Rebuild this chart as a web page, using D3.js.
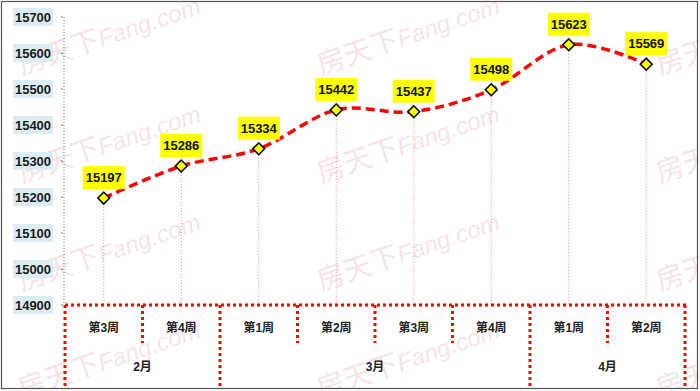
<!DOCTYPE html>
<html>
<head>
<meta charset="utf-8">
<script src="https://cdn.jsdelivr.net/npm/d3@7"></script>
<style>
  body { margin: 0; background: #fff; }
  svg text { font-family: "Liberation Sans", Arial, "Noto Sans CJK SC", sans-serif; }
</style>
</head>
<body>
<div id="chart"></div>
<script>
// weekly values
const weeks = ["第3周", "第4周", "第1周", "第2周", "第3周", "第4周", "第1周", "第2周"];
const values = [15197, 15286, 15334, 15442, 15437, 15498, 15623, 15569];
// month groups: label + number of weeks
const months = ["2月", "3月", "4月"];
const monthWeeks = [2, 4, 2];
const yTicks = [14900, 15000, 15100, 15200, 15300, 15400, 15500, 15600, 15700];

const width = 700, height = 391;
const plotLeft = 65, plotRight = 685, plotTop = 17, plotBottom = 305;

const svg = d3.select("#chart").append("svg")
  .attr("width", width)
  .attr("height", height);

// watermark (clipped to the frame like the original)
svg.append("clipPath").attr("id", "frame")
  .append("rect").attr("x", 2).attr("y", 2).attr("width", 695).attr("height", 386);
const wm = svg.append("g").attr("clip-path", "url(#frame)");
const wmX = [22, 321, 660];
const wmY = [75, 183, 291, 399];
wmX.forEach((wx) => {
  wmY.forEach((wy) => {
    const t = wm.append("text")
      .attr("transform", `translate(${wx},${wy}) rotate(-19)`)
      .attr("fill", "#e9a9b0")
      .attr("opacity", 0.32);
    t.append("tspan").attr("font-size", 28).text("房天下");
    t.append("tspan").attr("font-size", 24).attr("font-style", "italic").text("Fang.com");
  });
});

// outer border
svg.append("rect")
  .attr("x", 1.5).attr("y", 1.5)
  .attr("width", 696).attr("height", 387)
  .attr("fill", "none")
  .attr("stroke", "#555")
  .attr("stroke-width", 1.2);

const idx = weeks.map((d, i) => i);
const x = d3.scaleBand().domain(idx).range([plotLeft, plotRight]);
const y = d3.scaleLinear().domain([14900, 15700]).range([plotBottom, plotTop]);
const cx = (i) => x(i) + x.bandwidth() / 2;

// y axis
svg.append("line")
  .attr("x1", plotLeft - 1).attr("x2", plotLeft - 1)
  .attr("y1", y(15700)).attr("y2", plotBottom)
  .attr("stroke", "#777")
  .attr("stroke-dasharray", "1,2");

const yl = svg.append("g").selectAll("g")
  .data(yTicks)
  .enter()
  .append("g")
  .attr("transform", (d) => `translate(0,${y(d)})`);
yl.append("rect")
  .attr("x", 13).attr("y", -9)
  .attr("width", 40).attr("height", 18)
  .attr("fill", "#dbecf3");
yl.append("text")
  .attr("x", 33).attr("dy", "0.36em")
  .attr("text-anchor", "middle")
  .attr("font-size", 13)
  .attr("font-weight", "bold")
  .attr("fill", "#1a1a1a")
  .text((d) => d);
yl.append("line")
  .attr("x1", 61).attr("x2", 63)
  .attr("stroke", "#777");

// drop lines
svg.append("g").selectAll("line")
  .data(values)
  .enter()
  .append("line")
  .attr("x1", (d, i) => cx(i)).attr("x2", (d, i) => cx(i))
  .attr("y1", (d) => y(d)).attr("y2", plotBottom)
  .attr("stroke", "#f08a8a")
  .attr("stroke-width", 1)
  .attr("stroke-dasharray", "1,2");

// smoothed dashed line
const line = d3.line()
  .x((d, i) => cx(i))
  .y((d) => y(d))
  .curve(d3.curveCardinal.tension(0));
svg.append("path")
  .datum(values)
  .attr("d", line)
  .attr("fill", "none")
  .attr("stroke", "#ff0000")
  .attr("stroke-width", 3.5)
  .attr("stroke-dasharray", "9,5");

// markers
svg.append("g").selectAll("path")
  .data(values)
  .enter()
  .append("path")
  .attr("transform", (d, i) => `translate(${cx(i)},${y(d)}) rotate(45)`)
  .attr("d", d3.symbol().type(d3.symbolSquare).size(70))
  .attr("fill", "#ffff00")
  .attr("stroke", "#111")
  .attr("stroke-width", 1.6);

// data labels
const lab = svg.append("g").selectAll("g")
  .data(values)
  .enter()
  .append("g")
  .attr("transform", (d, i) => `translate(${cx(i)},${y(d) - 20.5})`);
lab.append("rect")
  .attr("x", -21).attr("y", -11.5)
  .attr("width", 42).attr("height", 23)
  .attr("fill", "#ffff00");
lab.append("text")
  .attr("text-anchor", "middle")
  .attr("dy", "0.36em")
  .attr("font-size", 13)
  .attr("font-weight", "bold")
  .attr("fill", "#111")
  .text((d) => d);

// category table
const red = { stroke: "#ff0000", w: 3, dash: "3,3" };
svg.append("line")
  .attr("x1", plotLeft).attr("x2", plotRight + 1.5)
  .attr("y1", plotBottom).attr("y2", plotBottom)
  .attr("stroke", red.stroke)
  .attr("stroke-width", red.w)
  .attr("stroke-dasharray", red.dash);

// month boundaries
const monthStart = [];
let acc = 0;
monthWeeks.forEach((n) => { monthStart.push(acc); acc += n; });
const bounds = idx.concat([weeks.length]);
const isMonthEdge = (b) => b === 0 || b === weeks.length || monthStart.includes(b);
const bx = (b) => b === weeks.length ? plotRight : x(b);

svg.append("g").selectAll("line")
  .data(bounds)
  .enter()
  .append("line")
  .attr("x1", bx).attr("x2", bx)
  .attr("y1", plotBottom)
  .attr("y2", (b) => isMonthEdge(b) ? 386 : 343)
  .attr("stroke", red.stroke)
  .attr("stroke-width", red.w)
  .attr("stroke-dasharray", red.dash);

svg.append("g").selectAll("text")
  .data(weeks)
  .enter()
  .append("text")
  .attr("x", (d, i) => cx(i))
  .attr("y", 328)
  .attr("dy", "0.36em")
  .attr("text-anchor", "middle")
  .attr("font-size", 12)
  .attr("font-weight", "bold")
  .attr("fill", "#222")
  .text((d) => d);

svg.append("g").selectAll("text")
  .data(months)
  .enter()
  .append("text")
  .attr("x", (d, i) => (x(monthStart[i]) + bx(monthStart[i] + monthWeeks[i])) / 2)
  .attr("y", 367)
  .attr("dy", "0.36em")
  .attr("text-anchor", "middle")
  .attr("font-size", 12)
  .attr("font-weight", "bold")
  .attr("fill", "#222")
  .text((d) => d);
</script>
</body>
</html>
